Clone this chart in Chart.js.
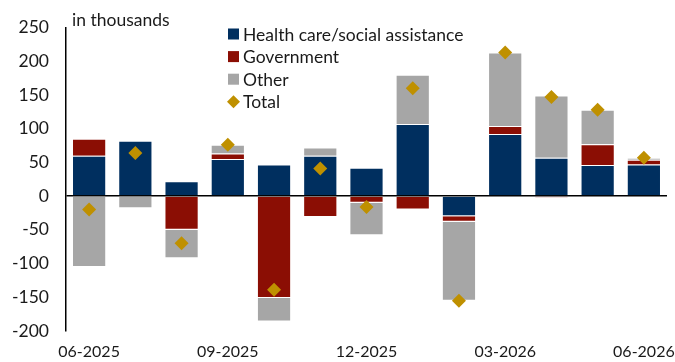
<!DOCTYPE html>
<html>
<head>
<meta charset="utf-8">
<script src="https://cdn.jsdelivr.net/npm/chart.js@4/dist/chart.umd.min.js"></script>
<style>
  html, body { margin: 0; padding: 0; background: #fff; }
  #wrap { width: 675px; height: 362px; position: relative; }
</style>
</head>
<body>
<div id="wrap"><canvas id="jobsChart"></canvas></div>
<script>
// monthly job gains by sector, in thousands
const months = ["06-2025", "07-2025", "08-2025", "09-2025", "10-2025", "11-2025", "12-2025",
                "01-2026", "02-2026", "03-2026", "04-2026", "05-2026", "06-2026"];
const healthCare = [60, 82, 22, 55, 47, 60, 42, 107, -30, 92, 57, 46, 47];
const government = [25, 0, -50, 8, -151, -31, -10, -20, -8, 12, -2, 31, 7];
const other = [-105, -18, -42, 13, -35, 12, -48, 73, -117, 109, 92, 51, 3];
const total = [-20, 64, -70, 76, -139, 41, -16, 160, -155, 213, 147, 128, 57];
const shownTicks = ["06-2025", "09-2025", "12-2025", "03-2026", "06-2026"];

const FONT = "Lato, Calibri, 'Open Sans', sans-serif";
const FSIZE = 17.5;
const NAVY = "#002F5F", RED = "#8B0E04", GREY = "#A6A6A6", GOLD = "#BF9000";

// unit note + legend drawn inside the plot
const overlay = {
  id: "overlay",
  afterDraw(chart) {
    const ctx = chart.ctx;
    ctx.save();
    ctx.fillStyle = "#1a1a1a";
    ctx.font = FSIZE + "px " + FONT;
    ctx.textBaseline = "middle";
    ctx.textAlign = "left";
    ctx.fillText("in thousands", 72, 20);

    const rows = [
      { label: "Health care/social assistance", color: NAVY, shape: "box" },
      { label: "Government", color: RED, shape: "box" },
      { label: "Other", color: GREY, shape: "box" },
      { label: "Total", color: GOLD, shape: "diamond" }
    ];
    rows.forEach((r, i) => {
      const y = 34 + i * 22.6;
      ctx.fillStyle = r.color;
      if (r.shape === "box") {
        ctx.fillRect(228, y - 5.5, 11, 11);
      } else {
        ctx.beginPath();
        ctx.moveTo(233.5, y - 6.5);
        ctx.lineTo(240, y);
        ctx.lineTo(233.5, y + 6.5);
        ctx.lineTo(227, y);
        ctx.closePath();
        ctx.fill();
      }
      ctx.fillStyle = "#1a1a1a";
      ctx.fillText(r.label, 243, y + 1);
    });
    ctx.restore();
  }
};

const barBorder = "rgba(255,255,255,0.45)";

new Chart(document.getElementById("jobsChart"), {
  data: {
    labels: months,
    datasets: [
      { type: "line", label: "Total", data: total, showLine: false, pointStyle: "rectRot",
        pointRadius: 7, pointHoverRadius: 7, backgroundColor: GOLD, borderColor: GOLD, borderWidth: 0, order: 0 },
      { type: "bar", label: "Health care/social assistance", data: healthCare, backgroundColor: NAVY,
        borderColor: barBorder, borderWidth: 1, stack: "s", order: 1 },
      { type: "bar", label: "Government", data: government, backgroundColor: RED,
        borderColor: barBorder, borderWidth: 1, stack: "s", order: 1 },
      { type: "bar", label: "Other", data: other, backgroundColor: GREY,
        borderColor: barBorder, borderWidth: 1, stack: "s", order: 1 }
    ]
  },
  options: {
    responsive: true,
    maintainAspectRatio: false,
    animation: false,
    layout: { padding: { top: 26, right: 8, bottom: 0, left: 0 } },
    datasets: { bar: { barPercentage: 0.74, categoryPercentage: 1 } },
    plugins: { legend: { display: false }, tooltip: { enabled: false } },
    scales: {
      x: {
        stacked: true,
        // last date label may hang past the plot edge
        afterFit: s => { s.height = 31; s.paddingRight = 0; s.paddingLeft = 0; },
        grid: { display: false, drawTicks: false },
        border: { display: false },
        ticks: {
          autoSkip: false, maxRotation: 0, padding: 11, color: "#1a1a1a",
          font: { family: FONT, size: 16 },
          callback: function(v, i) {
            const l = this.getLabelForValue(v);
            return shownTicks.includes(l) ? l : "";
          }
        }
      },
      y: {
        stacked: true,
        min: -200, max: 250,
        afterFit: s => { s.width = 66; },
        grid: {
          drawTicks: false,
          color: c => c.tick && c.tick.value === 0 ? "#000" : "rgba(0,0,0,0)",
          lineWidth: 1.5
        },
        border: { display: true, color: "#000", width: 1.5 },
        ticks: { stepSize: 50, padding: 17, color: "#1a1a1a", font: { family: FONT, size: FSIZE } }
      }
    }
  },
  plugins: [overlay]
});
</script>
</body>
</html>
